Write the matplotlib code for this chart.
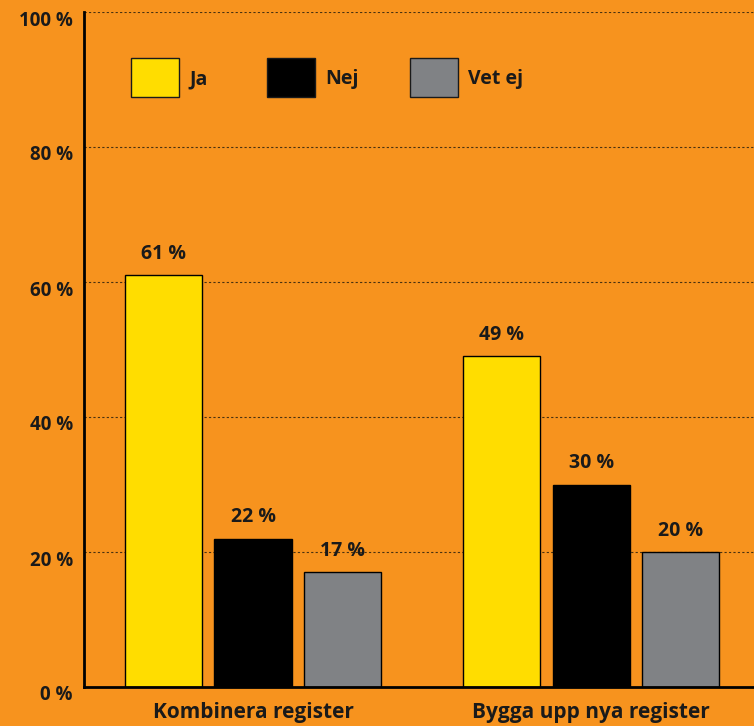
import matplotlib
matplotlib.use("Agg")
from matplotlib import pyplot as plt
from matplotlib.patches import Rectangle
from matplotlib.transforms import ScaledTranslation
import numpy as np

categories = ["Kombinera register", "Bygga upp nya register"]
series_names = ["Ja", "Nej", "Vet ej"]
values = {
    "Ja": [61, 49],
    "Nej": [22, 30],
    "Vet ej": [17, 20],
}
y_ticks = [0, 20, 40, 60, 80, 100]
y_tick_labels = ["0 %", "20 %", "40 %", "60 %", "80 %", "100 %"]

ORANGE = "#F7931E"
colors = {"Ja": "#FFDD00", "Nej": "#000000", "Vet ej": "#808285"}

plt.rcParams['font.family'] = ['Open Sans', 'DejaVu Sans']
plt.rcParams['font.weight'] = 'bold'

fig = plt.figure(figsize=(7.54, 7.26), dpi=100, facecolor=ORANGE)
ax = fig.add_axes([84 / 754, 1 - 687 / 726, 1 - 84 / 754, (687 - 12) / 726])
ax.set_facecolor(ORANGE)

x = np.arange(len(categories))
step = 0.265
width = 0.228
for j, name in enumerate(series_names):
    pos = x + (j - 1) * step
    bars = ax.bar(pos, values[name], width, color=colors[name],
                  edgecolor="black", linewidth=1.0, zorder=3)
    for b, v in zip(bars, values[name]):
        ax.annotate("%d %%" % v, (b.get_x() + b.get_width() / 2, v),
                    xytext=(0, 8), textcoords="offset points",
                    ha="center", va="bottom", fontsize=14,
                    fontweight="bold", color="#1a1a1a")

ax.set_xlim(-0.5, 1.482)
ax.set_ylim(0, 100)
ax.set_yticks(y_ticks)
ax.set_yticklabels(y_tick_labels, fontsize=13.5, fontweight="bold",
                   color="#1a1a1a")
ax.set_xticks(x)
ax.set_xticklabels(categories, fontsize=15, fontweight="bold",
                   color="#1a1a1a")
ax.tick_params(axis="both", length=0)
ax.tick_params(axis="y", pad=8)
ax.tick_params(axis="x", pad=11)
offset = ScaledTranslation(0, -6 / 100, fig.dpi_scale_trans)
for lab in ax.get_yticklabels():
    lab.set_transform(lab.get_transform() + offset)

for y in y_ticks[1:]:
    ax.axhline(y, color="#4a3210", linestyle=(0, (2, 2)), linewidth=0.8,
               zorder=1)

for s in ["top", "right"]:
    ax.spines[s].set_visible(False)
for s in ["left", "bottom"]:
    ax.spines[s].set_linewidth(2.0)
    ax.spines[s].set_color("black")
    ax.spines[s].set_zorder(4)

# legend drawn by hand to match the boxes
legend_x = [131, 267, 410]
for lx, name in zip(legend_x, series_names):
    fig.patches.append(Rectangle((lx / 754, 1 - 97 / 726), 48 / 754, 39 / 726,
                                 transform=fig.transFigure,
                                 facecolor=colors[name], edgecolor="#1a1a1a",
                                 linewidth=1.0))
    fig.text((lx + 58) / 754, 1 - 79 / 726, name, fontsize=14,
             fontweight="bold", va="center", ha="left", color="#1a1a1a")

fig.savefig("out.png", dpi=100, facecolor=ORANGE)
